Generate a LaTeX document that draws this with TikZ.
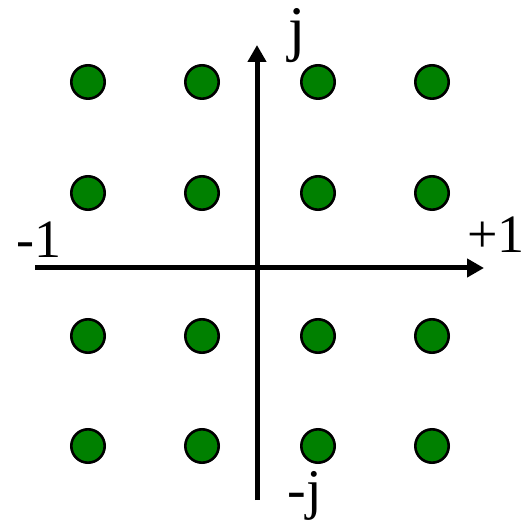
\documentclass[tikz,border=0pt]{standalone}
\usepackage{fontspec}
\setmainfont{Liberation Serif}
\usetikzlibrary{arrows.meta}
\definecolor{qamgreen}{RGB}{0,128,0}

\begin{document}
\begin{tikzpicture}[x=0.5pt, y=-0.5pt,
    point/.style={draw, circle, fill=qamgreen, line width=1.3pt, minimum size=16.7pt, inner sep=0pt},
    axis/.style={line width=2.5pt, -{Triangle[width=9pt, length=8.5pt]}},
    numlabel/.style={anchor=base, inner sep=0pt, font=\fontsize{27}{30}\selectfont},
    imlabel/.style={anchor=base, inner sep=0pt, font=\fontsize{31}{34}\selectfont}]

\useasboundingbox (0,0) rectangle (522,522);

\coordinate (xl) at (35,268); \coordinate (xr) at (484,268);
\coordinate (yb) at (257,500); \coordinate (yt) at (257,45);

\draw[axis] (xl) -- (xr);
\draw[axis] (yb) -- (yt);

\foreach \i/\x in {0/88,1/202,2/318,3/432} {
    \foreach \j/\y in {0/82,1/193,2/336,3/446} {
        \node[point] (p\i\j) at (\x,\y) {};
    }
}

\node[numlabel] (lneg) at (39,258) {-1};
\node[numlabel] (lpos) at (496,253) {+1};
\node[imlabel] (limag) at (297,50) {j};
\node[imlabel, font=\fontsize{28}{31}\selectfont] (lnegimag) at (305,508) {-j};

\end{tikzpicture}
\end{document}
